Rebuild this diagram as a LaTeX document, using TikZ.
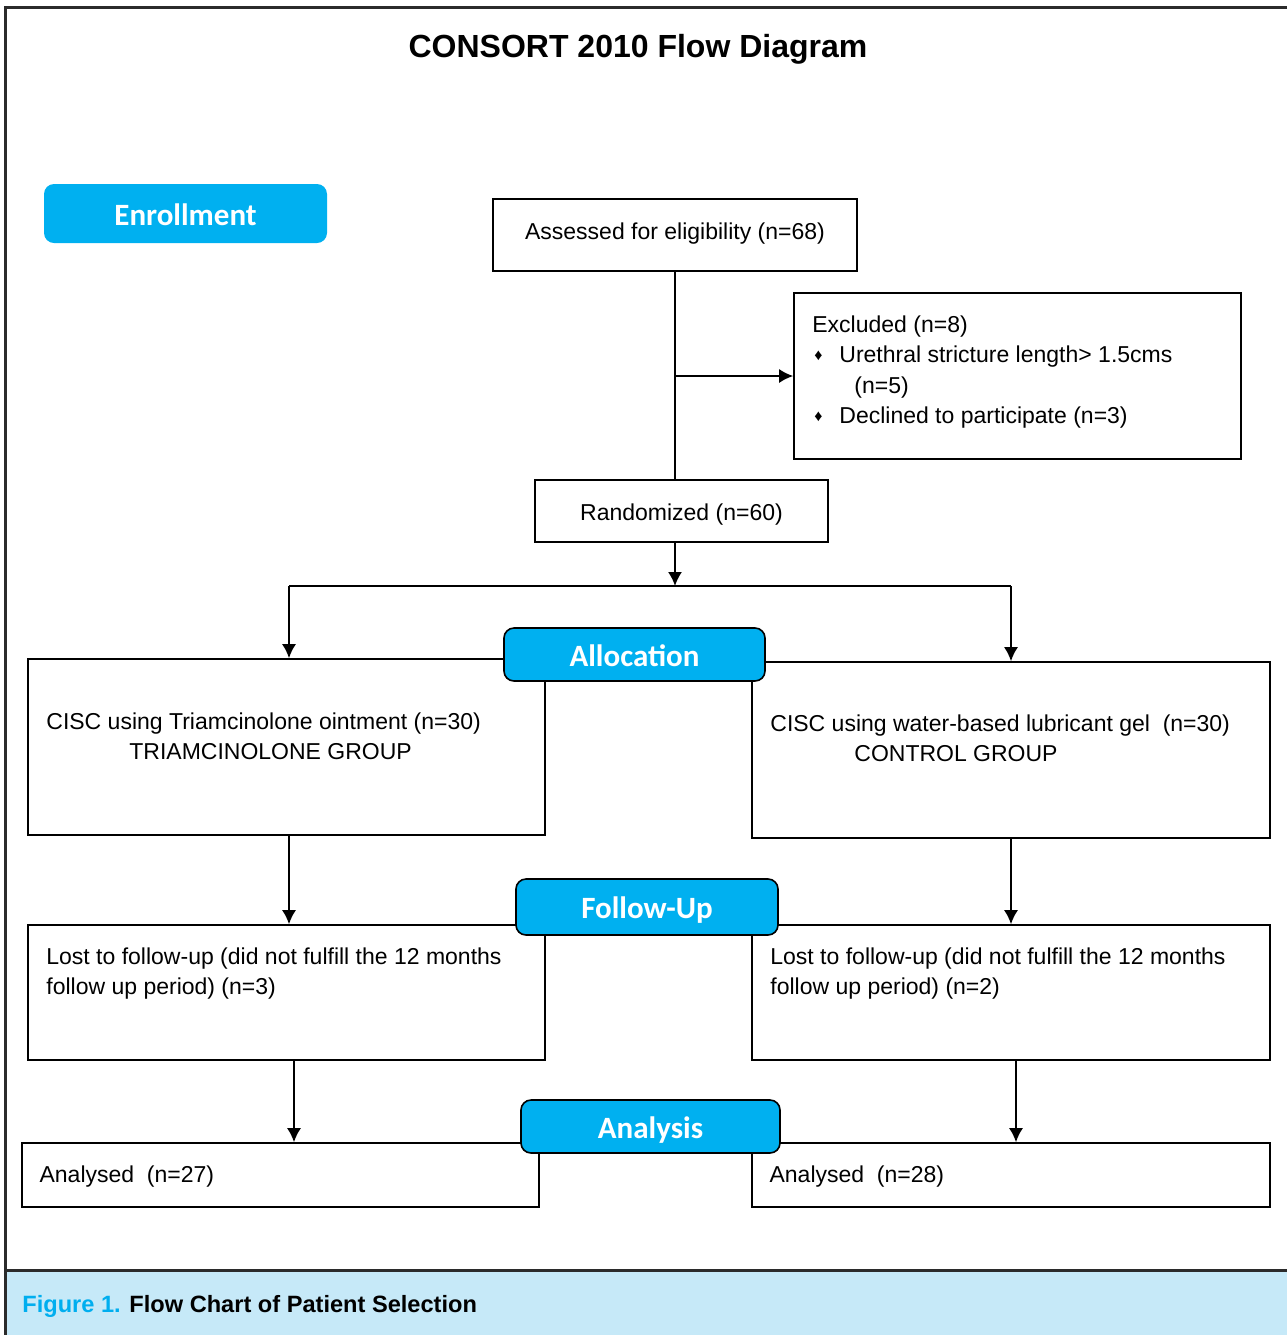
\documentclass[tikz,border=0pt]{standalone}
\usepackage{fontspec}
\setmainfont{Liberation Sans}
\newfontfamily\labelfont{Carlito}
\usetikzlibrary{calc,arrows.meta}
\definecolor{consortblue}{HTML}{00B0F0}
\definecolor{capblue}{HTML}{C6E9F8}
\definecolor{figblue}{HTML}{00AEEF}
\definecolor{framegray}{HTML}{2B2B2B}
\newcommand{\bul}{\makebox[13.5pt][l]{\hspace{1pt}\raisebox{1.2pt}{\fontsize{8}{8}\selectfont\symbol{"2666}}}}

\begin{document}
\begin{tikzpicture}[x=0.5pt,y=-0.5pt]
\tikzstyle{box} = [rectangle, draw=black, line width=0.8pt, fill=white, inner sep=0pt]
\tikzstyle{stage} = [rectangle, rounded corners=5pt, draw=black, line width=0.8pt, fill=consortblue, text=white, font=\labelfont\fontsize{15.5}{18}\selectfont\bfseries, inner sep=0pt, text height=11.5pt, text depth=0pt]
\tikzstyle{txt} = [inner sep=0pt, align=left, font=\fontsize{11.5}{15.25}\selectfont]
\tikzstyle{arrow} = [line width=0.9pt,-{Latex[length=7pt,width=7pt]}]
\useasboundingbox (0,0) rectangle (1287,1335);
% frame and caption bar
\fill[capblue] (5,1270) rectangle (1287,1335);
\draw[framegray, line width=1.5pt] (1287,7) -- (5,7) -- (5,1335);
\draw[framegray, line width=1.5pt] (5,1270) -- (1287,1270);
\node (title) at (638,49) {\fontsize{16}{19}\selectfont\bfseries CONSORT 2010 Flow Diagram};
\node (caption) [anchor=west, inner sep=0pt] at (22,1306) {\fontsize{11.8}{14}\selectfont\bfseries\textcolor{figblue}{Figure 1.} Flow Chart of Patient Selection};
% enrollment
\node (enroll) [stage, draw=none, minimum width=141.5pt, minimum height=29.5pt] at (185.5,213.5) {Enrollment};
\node (assess) [box, minimum width=182pt, minimum height=36pt, font=\fontsize{11.5}{14}\selectfont, text height=6.5pt, text depth=2.5pt] at (675,235) {Assessed for eligibility (n=68)};
\node (excl) [box, minimum width=223.5pt, minimum height=83pt] at (1017.5,376) {};
\node (excltxt) [txt, anchor=north west] at (812,315) {Excluded (n=8)\\\bul Urethral stricture length> 1.5cms\\\hspace*{21pt}(n=5)\\\bul Declined to participate (n=3)};
\node (rand) [box, minimum width=146.5pt, minimum height=31pt, font=\fontsize{11.5}{14}\selectfont, text height=9pt, text depth=0pt] at (681.5,511) {Randomized (n=60)};
\coordinate (split) at (675,586);
\draw [line width=0.9pt] (assess.south) -- (assess.south |- rand.north);
\draw [arrow] (assess.south |- excl.west) -- (excl.west);
\draw [arrow] (split |- rand.south) -- (split);
% allocation
\node (tri) [box, minimum width=258.5pt, minimum height=88pt] at (286.5,747) {};
\node (ctl) [box, minimum width=259pt, minimum height=88pt] at (1011,750) {};
\draw [line width=0.9pt] ([xshift=1.25pt]tri.north |- split) -- (ctl.north |- split);
\draw [arrow] ([xshift=1.25pt]tri.north |- split) -- ([xshift=1.25pt]tri.north);
\draw [arrow] (ctl.north |- split) -- (ctl.north);
\node (tritxt) [txt, anchor=north west] at (46,712) {CISC using Triamcinolone ointment (n=30)\\\hspace*{41.5pt}TRIAMCINOLONE GROUP};
\node (ctltxt) [txt, anchor=north west] at (770,714) {CISC using water-based lubricant gel\ \ (n=30)\\\hspace*{42pt}CONTROL GROUP};
\node (alloc) [stage, minimum width=130.5pt, minimum height=26.5pt] at (634.5,654.5) {Allocation};
% follow-up
\node (lostA) [box, minimum width=258.5pt, minimum height=67.5pt] at (286.5,992.5) {};
\node (lostB) [box, minimum width=259pt, minimum height=67.5pt] at (1011,992.5) {};
\draw [arrow] ([xshift=1.25pt]tri.south) -- ([xshift=1.25pt]tri.south |- lostA.north);
\draw [arrow] (ctl.south) -- (lostB.north);
\node (lostAtxt) [txt, anchor=north west] at (46,947) {Lost to follow-up (did not fulfill the 12 months\\follow up period) (n=3)};
\node (lostBtxt) [txt, anchor=north west] at (770,947) {Lost to follow-up (did not fulfill the 12 months\\follow up period) (n=2)};
\node (follow) [stage, minimum width=131pt, minimum height=28pt] at (647,907) {Follow-Up};
% analysis
\node (anA) [box, minimum width=258.5pt, minimum height=32pt] at (280.5,1175) {};
\node (anB) [box, minimum width=259pt, minimum height=32pt] at (1011,1175) {};
\draw [arrow] ([xshift=3.75pt]lostA.south) -- ([xshift=3.75pt]lostA.south |- anA.north);
\draw [arrow] ([xshift=2.5pt]lostB.south) -- ([xshift=2.5pt]lostB.south |- anB.north);
\node (anAtxt) [txt, anchor=west] at ([xshift=9pt,yshift=-1pt]anA.west) {Analysed\ \ (n=27)};
\node (anBtxt) [txt, anchor=west] at ([xshift=9pt,yshift=-1pt]anB.west) {Analysed\ \ (n=28)};
\node (anal) [stage, minimum width=129.5pt, minimum height=26.5pt] at (650.5,1126.5) {Analysis};
\end{tikzpicture}
\end{document}
